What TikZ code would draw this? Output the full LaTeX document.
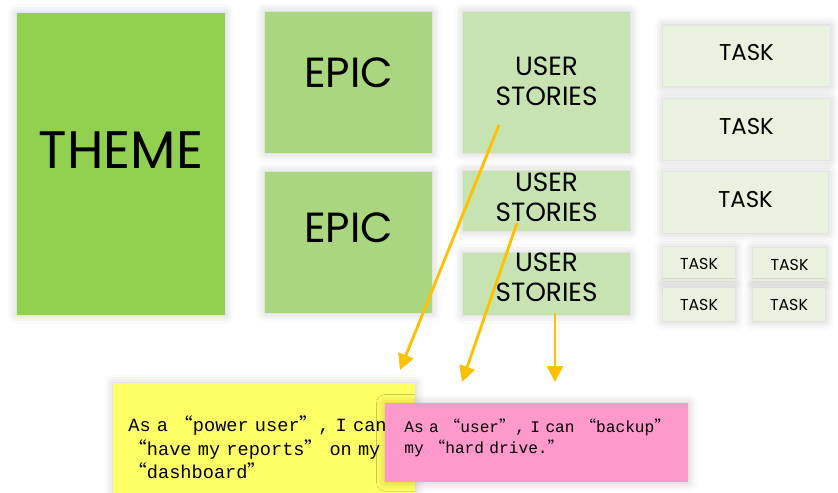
\documentclass[tikz,border=0pt]{standalone}
\usepackage{fontspec}
\usepackage{tikz}
\usetikzlibrary{arrows.meta,shadows.blur}
\newfontfamily\handfont{Poppins}
\newfontfamily\notefont{Liberation Mono}
\newfontfamily\cjk{Noto Sans CJK SC}
\definecolor{themeFill}{RGB}{146,208,80}
\definecolor{epicFill}{RGB}{169,214,126}
\definecolor{usFill}{RGB}{200,227,178}
\definecolor{taskFill}{RGB}{232,242,222}
\definecolor{noteY}{RGB}{255,255,102}
\definecolor{noteP}{RGB}{255,153,204}
\definecolor{arrGold}{RGB}{255,192,0}
\newcommand{\qq}[1]{{\cjk “}#1{\cjk ”}}

\begin{document}
\begin{tikzpicture}[x=0.02cm,y=-0.02cm,
  card/.style={inner sep=0pt,align=center,text=black,
    blur shadow={shadow xshift=0pt,shadow yshift=0pt,shadow blur radius=5pt,shadow opacity=22}},
  lift/.style={text depth=#1},
  themebox/.style={card,fill=themeFill,minimum width=4.16cm,minimum height=6.04cm,lift=0.56cm,font=\handfont\fontsize{30}{32}\selectfont},
  epicbox/.style ={card,fill=epicFill,minimum width=3.34cm,minimum height=2.82cm,font=\handfont\fontsize{24}{26}\selectfont},
  usbox/.style   ={card,fill=usFill,minimum width=3.34cm,font=\handfont\fontsize{15}{17}\selectfont},
  taskbox/.style ={card,fill=taskFill,minimum width=3.34cm,minimum height=1.22cm,lift=0.13cm,font=\handfont\fontsize{13}{15}\selectfont},
  subtask/.style ={card,fill=taskFill,minimum width=1.45cm,minimum height=0.67cm,font=\handfont\fontsize{9}{11}\selectfont},
  note/.style    ={card,align=left,anchor=north west,inner xsep=0.3cm},
  flow/.style={-{Triangle[length=9pt,width=9pt]},arrGold,line width=1.6pt}]
\useasboundingbox (0,0) rectangle (838,493);
% theme and epics
\node[themebox] (theme) at (121,164) {THEME};
\node[epicbox,lift=0.38cm] (epic1) at (348.5,82.5) {EPIC};
\node[epicbox,lift=0.58cm] (epic2) at (348.5,242.5) {EPIC};
% user stories
\node[usbox,minimum height=2.82cm,lift=0.05cm] (us1) at (546.5,82.5) {USER\\STORIES};
\node[usbox,minimum height=1.2cm,lift=0.16cm] (us2) at (546.5,201) {USER\\STORIES};
\node[usbox,minimum height=1.2cm,lift=0.26cm] (us3) at (546.5,284) {USER\\STORIES};
% tasks
\node[taskbox] (task1) at (746.5,56) {TASK};
\node[taskbox] (task2) at (746.5,129.5) {TASK};
\node[taskbox,minimum width=3.3cm] (task3) at (745.5,202.5) {TASK};
\node[subtask] (st1) at (699,264) {TASK};
\node[subtask] (st2) at (789.5,264.5) {TASK};
\node[subtask] (st3) at (699,304.5) {TASK};
\node[subtask] (st4) at (789,304.5) {TASK};
% sticky notes
\node[note,fill=noteY,text width=5.44cm,minimum height=2.56cm,inner ysep=0.3cm,
  font=\notefont\fontsize{10.6}{13.3}\selectfont] (noteA) at (113,383)
  {As a \qq{power user}, I can\\ \qq{have my reports} on my\\ \qq{dashboard}};
\node[note,fill=noteP,text width=5.3cm,minimum height=1.58cm,inner ysep=0.2cm,inner xsep=0.38cm,lift=0.68cm,
  font=\notefont\fontsize{9.2}{11.9}\selectfont] (noteB) at (385,403)
  {\mbox{As a \qq{user}, I can \qq{backup}}\\my \qq{hard drive.}};
% arrows
\coordinate (s1) at (499,125);
\coordinate (s2) at (517,223);
\coordinate (s3) at (555,313);
\coordinate (e1) at (400,370);
\coordinate (e2) at (462,382);
\coordinate (e3) at (555,382);
\draw[flow] (s1) -- (e1);
\draw[flow] (s2) -- (e2);
\draw[flow] (s3) -- (e3);
\end{tikzpicture}
\end{document}
